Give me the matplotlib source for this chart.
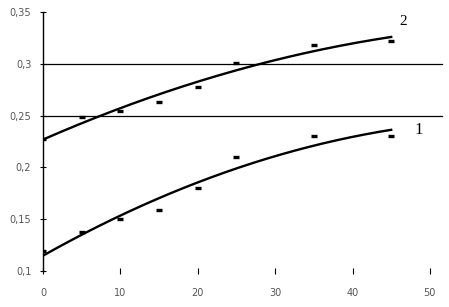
import numpy as np
import matplotlib
matplotlib.use("Agg")
import matplotlib.pyplot as plt

# measured points
x_pts = [0, 5, 10, 15, 20, 25, 35, 45]
series1 = [0.119, 0.138, 0.150, 0.159, 0.180, 0.210, 0.230, 0.230]
series2 = [0.227, 0.249, 0.254, 0.263, 0.278, 0.301, 0.318, 0.322]

x_ticks = [0, 10, 20, 30, 40, 50]
y_ticks = [0.1, 0.15, 0.2, 0.25, 0.3, 0.35]
y_tick_labels = ["0,1", "0,15", "0,2", "0,25", "0,3", "0,35"]
grid_levels = [0.25, 0.3]
curve_labels = ["1", "2"]

fig = plt.figure(figsize=(4.49, 3.07), dpi=100)
ax = fig.add_axes([0.096, 0.117, 0.87, 0.844])

# trend lines (2nd order polynomial fit of the points)
xs = np.linspace(0, 45, 200)
for ys in (series1, series2):
    coef = np.polyfit(x_pts, ys, 2)
    ax.plot(xs, np.polyval(coef, xs), color="black", lw=1.7)
    ax.plot(x_pts, ys, "_", color="black", ms=4.5, mew=2.4, lw=0)

for g in grid_levels:
    ax.axhline(g, color="black", lw=0.9, xmin=0, xmax=1.02, clip_on=False)

ax.text(46.5, 0.341, curve_labels[1], fontsize=11, family="Liberation Serif",
        ha="center", va="center")
ax.text(48.6, 0.236, curve_labels[0], fontsize=12, family="Liberation Serif",
        ha="center", va="center")

ax.set_xlim(0, 50.5)
ax.set_ylim(0.1, 0.35)
ax.set_xticks(x_ticks)
ax.set_yticks(y_ticks)
ax.set_yticklabels(y_tick_labels)

for s in ["top", "right", "bottom"]:
    ax.spines[s].set_visible(False)
ax.spines["left"].set_linewidth(1.0)

ax.tick_params(axis="y", direction="inout", length=5, width=0.8,
               labelsize=7, labelcolor="#555555", pad=6)
ax.tick_params(axis="x", direction="inout", length=4, width=0.8,
               labelsize=7, labelcolor="#555555", pad=10)

fig.savefig("out.png", dpi=100)
